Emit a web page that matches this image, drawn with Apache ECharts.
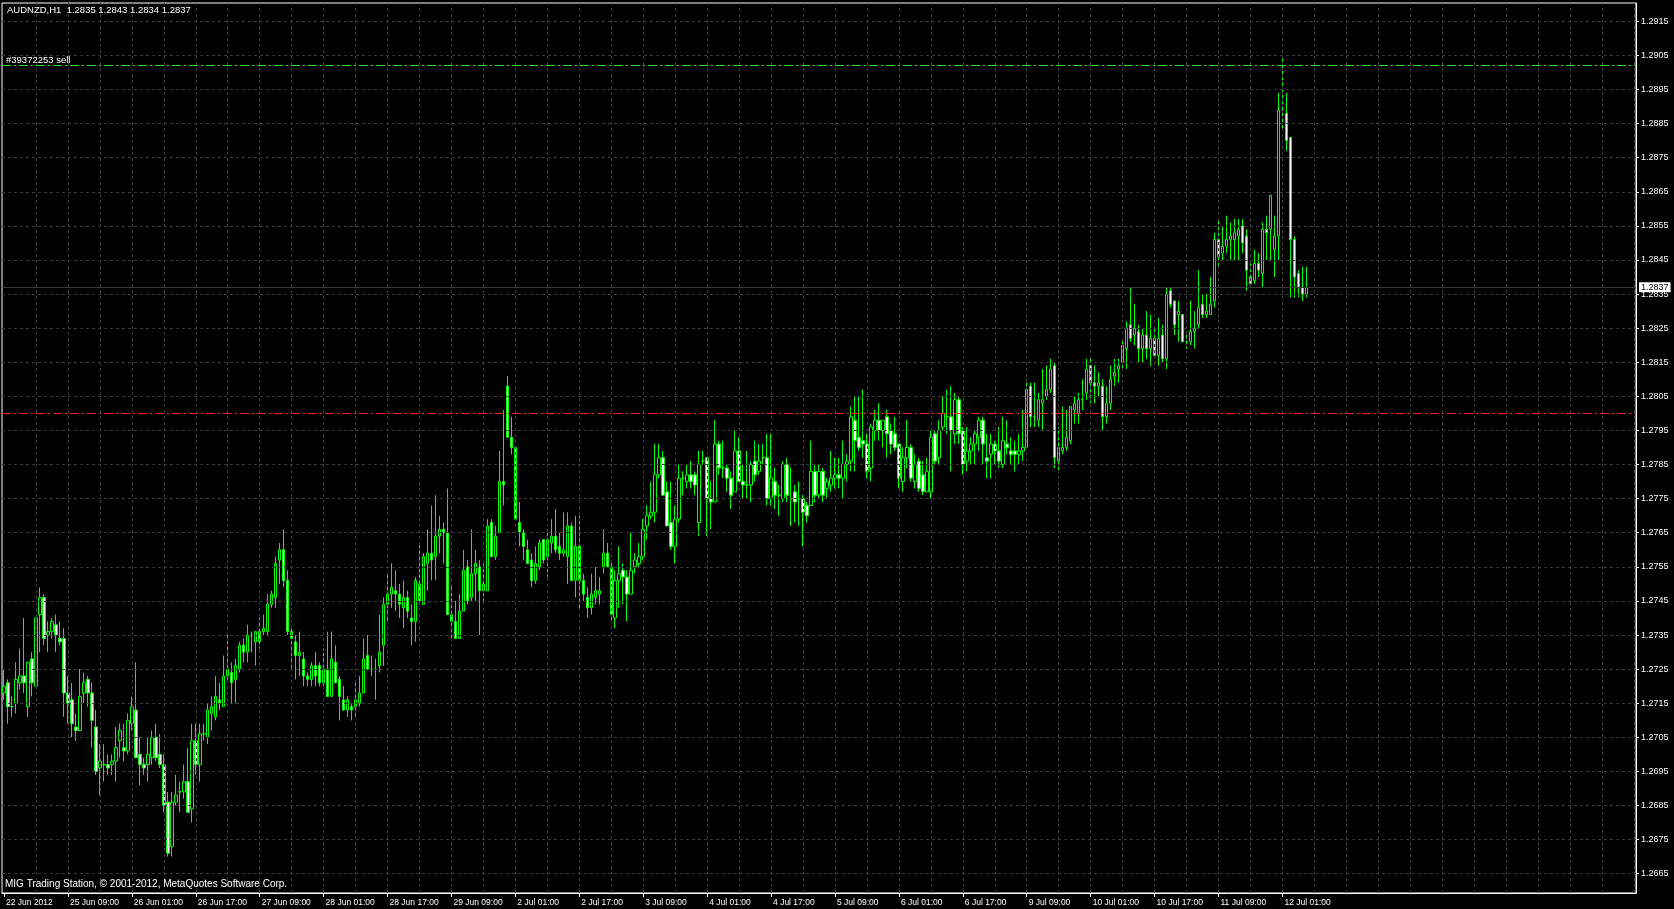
<!DOCTYPE html>
<html><head><meta charset="utf-8">
<script src="https://cdn.jsdelivr.net/npm/echarts@6/dist/echarts.min.js"></script>
<style>html,body{margin:0;padding:0;background:#000;}#c{width:1674px;height:909px;}</style>
</head><body><div id="c"></div>
<script>
const symbolName = 'AUDNZD';
const period = 'H1';
const copyright = 'MIG Trading Station, \u00a9 2001-2012, MetaQuotes Software Corp.';
const tickLabels = ['22 Jun 2012','25 Jun 09:00','26 Jun 01:00','26 Jun 17:00','27 Jun 09:00','28 Jun 01:00','28 Jun 17:00','29 Jun 09:00','2 Jul 01:00','2 Jul 17:00','3 Jul 09:00','4 Jul 01:00','4 Jul 17:00','5 Jul 09:00','6 Jul 01:00','6 Jul 17:00','9 Jul 09:00','10 Jul 01:00','10 Jul 17:00','11 Jul 09:00','12 Jul 01:00'];
const priceTicks = [1.2665,1.2675,1.2685,1.2695,1.2705,1.2715,1.2725,1.2735,1.2745,1.2755,1.2765,1.2775,1.2785,1.2795,1.2805,1.2815,1.2825,1.2835,1.2845,1.2855,1.2865,1.2875,1.2885,1.2895,1.2905,1.2915];
const orderTicket = '#39372253 sell';
const orderOpen = 1.2902;
const orderTarget = 1.2800;
const bidPrice = 1.2837;

// hourly candles [open, high, low, close]
const jun22 = [
[1.2718,1.2725,1.2716,1.2720],[1.2721,1.2722,1.2709,1.2714],[1.2714,1.2717,1.2711,1.2714],[1.2715,1.2727,1.2712,1.2722],
[1.2721,1.2731,1.2719,1.2723],[1.2723,1.2740,1.2718,1.2721],[1.2714,1.2727,1.2711,1.2727]];
const jun25 = [
[1.2728,1.2730,1.2717,1.2721],[1.2720,1.2740,1.2720,1.2740],[1.2741,1.2749,1.2730,1.2746],[1.2746,1.2747,1.2732,1.2734],
[1.2735,1.2739,1.2730,1.2736],[1.2736,1.2740,1.2734,1.2739],[1.2738,1.2741,1.2730,1.2735],[1.2734,1.2739,1.2732,1.2733],
[1.2734,1.2737,1.2711,1.2718],[1.2718,1.2723,1.2709,1.2715],[1.2716,1.2721,1.2705,1.2709],[1.2708,1.2712,1.2704,1.2707],
[1.2707,1.2725,1.2707,1.2717],[1.2718,1.2724,1.2715,1.2721],[1.2722,1.2723,1.2714,1.2718],[1.2718,1.2721,1.2702,1.2710],
[1.2708,1.2713,1.2694,1.2695],[1.2696,1.2703,1.2688,1.2698],[1.2697,1.2703,1.2692,1.2697],[1.2697,1.2700,1.2694,1.2696],
[1.2697,1.2700,1.2694,1.2698],[1.2698,1.2708,1.2692,1.2702],[1.2704,1.2709,1.2699,1.2707],[1.2702,1.2709,1.2698,1.2701]];
const jun26 = [
[1.2701,1.2712,1.2700,1.2710],[1.2709,1.2717,1.2707,1.2714],[1.2713,1.2727,1.2699,1.2699],[1.2700,1.2705,1.2691,1.2697],
[1.2697,1.2699,1.2694,1.2696],[1.2697,1.2705,1.2692,1.2700],[1.2699,1.2707,1.2697,1.2705],[1.2705,1.2709,1.2698,1.2699],
[1.2700,1.2706,1.2696,1.2697],[1.2697,1.2700,1.2683,1.2685],[1.2686,1.2689,1.2670,1.2671],[1.2673,1.2689,1.2670,1.2686],
[1.2686,1.2694,1.2685,1.2688],[1.2689,1.2692,1.2683,1.2689],[1.2689,1.2697,1.2687,1.2692],[1.2692,1.2702,1.2683,1.2683],
[1.2684,1.2709,1.2680,1.2704],[1.2704,1.2709,1.2694,1.2697],[1.2697,1.2709,1.2692,1.2706],[1.2706,1.2709,1.2704,1.2706],
[1.2705,1.2715,1.2703,1.2713],[1.2712,1.2717,1.2707,1.2714],[1.2711,1.2723,1.2710,1.2717],[1.2716,1.2721,1.2713,1.2715]];
const jun27 = [
[1.2714,1.2729,1.2714,1.2723],[1.2723,1.2735,1.2721,1.2725],[1.2724,1.2727,1.2715,1.2721],[1.2722,1.2728,1.2715,1.2726],
[1.2725,1.2733,1.2724,1.2732],[1.2732,1.2734,1.2727,1.2730],[1.2730,1.2738,1.2727,1.2735],[1.2735,1.2736,1.2730,1.2735],
[1.2733,1.2736,1.2726,1.2736],[1.2736,1.2740,1.2731,1.2733],[1.2736,1.2741,1.2735,1.2737],[1.2736,1.2747,1.2735,1.2744],
[1.2744,1.2748,1.2743,1.2747],[1.2746,1.2758,1.2743,1.2756],[1.2757,1.2762,1.2750,1.2760],[1.2760,1.2766,1.2749,1.2751],
[1.2751,1.2754,1.2735,1.2736],[1.2736,1.2737,1.2725,1.2734],[1.2733,1.2735,1.2722,1.2729],[1.2729,1.2736,1.2723,1.2730],
[1.2728,1.2730,1.2720,1.2723],[1.2723,1.2724,1.2720,1.2722],[1.2722,1.2727,1.2720,1.2726],[1.2726,1.2730,1.2720,1.2723]];
const jun28 = [
[1.2726,1.2727,1.2720,1.2721],[1.2721,1.2731,1.2719,1.2725],[1.2725,1.2736,1.2717,1.2717],[1.2717,1.2736,1.2717,1.2728],
[1.2727,1.2732,1.2721,1.2721],[1.2722,1.2723,1.2710,1.2717],[1.2716,1.2720,1.2713,1.2713],[1.2713,1.2717,1.2711,1.2716],
[1.2714,1.2715,1.2710,1.2713],[1.2714,1.2721,1.2711,1.2716],[1.2715,1.2723,1.2714,1.2718],[1.2718,1.2734,1.2718,1.2728],
[1.2729,1.2735,1.2725,1.2725],[1.2725,1.2729,1.2723,1.2725],[1.2725,1.2728,1.2716,1.2725],[1.2726,1.2741,1.2724,1.2730],
[1.2732,1.2746,1.2726,1.2744],[1.2744,1.2753,1.2739,1.2747],[1.2747,1.2756,1.2743,1.2749],[1.2748,1.2754,1.2742,1.2747],
[1.2747,1.2750,1.2740,1.2744],[1.2743,1.2751,1.2737,1.2746],[1.2746,1.2748,1.2740,1.2742],[1.2740,1.2744,1.2732,1.2739]];
const jun29 = [
[1.2739,1.2752,1.2733,1.2751],[1.2750,1.2762,1.2745,1.2745],[1.2744,1.2759,1.2744,1.2758],[1.2756,1.2766,1.2748,1.2759],
[1.2759,1.2773,1.2751,1.2757],[1.2758,1.2776,1.2751,1.2764],[1.2764,1.2770,1.2759,1.2766],[1.2766,1.2768,1.2756,1.2765],
[1.2765,1.2778,1.2741,1.2741],[1.2741,1.2750,1.2734,1.2739],[1.2739,1.2745,1.2734,1.2734],[1.2734,1.2747,1.2734,1.2742],
[1.2742,1.2760,1.2742,1.2754],[1.2755,1.2757,1.2744,1.2745],[1.2746,1.2766,1.2745,1.2753],[1.2753,1.2760,1.2745,1.2756],
[1.2755,1.2757,1.2735,1.2748],[1.2748,1.2756,1.2745,1.2750],[1.2748,1.2769,1.2748,1.2767],[1.2768,1.2769,1.2758,1.2758],
[1.2758,1.2767,1.2757,1.2764],[1.2765,1.2789,1.2765,1.2780],[1.2780,1.2801,1.2773,1.2779],[1.2808,1.2811,1.2793,1.2793]];
const jul02 = [
[1.2793,1.2799,1.2788,1.2790],[1.2790,1.2790,1.2769,1.2769],[1.2768,1.2774,1.2761,1.2765],[1.2765,1.2766,1.2757,1.2761],
[1.2760,1.2763,1.2756,1.2756],[1.2757,1.2759,1.2749,1.2751],[1.2751,1.2761,1.2750,1.2756],[1.2755,1.2763,1.2754,1.2762],
[1.2763,1.2763,1.2756,1.2757],[1.2758,1.2766,1.2752,1.2763],[1.2762,1.2769,1.2759,1.2764],[1.2764,1.2772,1.2759,1.2760],
[1.2761,1.2765,1.2757,1.2759],[1.2759,1.2771,1.2758,1.2760],[1.2758,1.2771,1.2750,1.2767],[1.2767,1.2768,1.2751,1.2751],
[1.2751,1.2770,1.2746,1.2761],[1.2761,1.2770,1.2742,1.2751],[1.2751,1.2753,1.2745,1.2747],[1.2746,1.2749,1.2740,1.2743],
[1.2743,1.2753,1.2741,1.2747],[1.2746,1.2755,1.2744,1.2748],[1.2747,1.2752,1.2744,1.2748],[1.2755,1.2766,1.2753,1.2759]];
const jul03 = [
[1.2759,1.2762,1.2755,1.2755],[1.2755,1.2757,1.2739,1.2741],[1.2740,1.2754,1.2737,1.2751],[1.2751,1.2761,1.2743,1.2753],
[1.2754,1.2756,1.2744,1.2752],[1.2752,1.2754,1.2739,1.2747],[1.2747,1.2765,1.2747,1.2754],[1.2755,1.2759,1.2753,1.2757],
[1.2756,1.2762,1.2755,1.2758],[1.2758,1.2769,1.2757,1.2766],[1.2767,1.2773,1.2763,1.2770],[1.2770,1.2780,1.2769,1.2771],
[1.2771,1.2791,1.2768,1.2782],[1.2782,1.2791,1.2781,1.2787],[1.2787,1.2789,1.2776,1.2776],[1.2777,1.2780,1.2767,1.2767],
[1.2768,1.2780,1.2760,1.2761],[1.2761,1.2773,1.2756,1.2769],[1.2769,1.2785,1.2768,1.2781],[1.2781,1.2783,1.2776,1.2781],
[1.2780,1.2785,1.2778,1.2782],[1.2782,1.2786,1.2778,1.2780],[1.2782,1.2783,1.2776,1.2779],[1.2768,1.2789,1.2764,1.2785]];
const jul04 = [
[1.2786,1.2789,1.2785,1.2786],[1.2787,1.2787,1.2764,1.2775],[1.2775,1.2780,1.2766,1.2774],[1.2774,1.2798,1.2774,1.2791],
[1.2791,1.2792,1.2782,1.2784],[1.2784,1.2792,1.2781,1.2784],[1.2784,1.2785,1.2777,1.2781],[1.2781,1.2783,1.2772,1.2776],
[1.2777,1.2795,1.2777,1.2789],[1.2789,1.2793,1.2780,1.2780],[1.2780,1.2785,1.2775,1.2779],[1.2779,1.2789,1.2775,1.2779],
[1.2779,1.2786,1.2774,1.2785],[1.2786,1.2792,1.2780,1.2782],[1.2783,1.2791,1.2782,1.2786],[1.2787,1.2791,1.2785,1.2787],
[1.2787,1.2794,1.2773,1.2775],[1.2775,1.2794,1.2773,1.2781],[1.2780,1.2784,1.2772,1.2776],[1.2776,1.2779,1.2770,1.2776],
[1.2775,1.2786,1.2774,1.2785],[1.2785,1.2787,1.2774,1.2776],[1.2775,1.2784,1.2767,1.2775],[1.2777,1.2779,1.2768,1.2774]];
const jul05 = [
[1.2775,1.2780,1.2767,1.2775],[1.2775,1.2776,1.2761,1.2771],[1.2773,1.2774,1.2768,1.2770],[1.2773,1.2792,1.2773,1.2783],
[1.2783,1.2785,1.2774,1.2776],[1.2776,1.2785,1.2775,1.2783],[1.2783,1.2784,1.2774,1.2776],[1.2778,1.2781,1.2775,1.2780],
[1.2779,1.2789,1.2777,1.2781],[1.2781,1.2787,1.2778,1.2782],[1.2782,1.2787,1.2778,1.2781],[1.2781,1.2792,1.2775,1.2785],
[1.2785,1.2788,1.2780,1.2786],[1.2786,1.2802,1.2783,1.2799],[1.2798,1.2805,1.2783,1.2792],[1.2793,1.2805,1.2789,1.2790],
[1.2792,1.2807,1.2787,1.2791],[1.2791,1.2794,1.2781,1.2783],[1.2784,1.2797,1.2780,1.2796],[1.2795,1.2801,1.2792,1.2798],
[1.2798,1.2803,1.2792,1.2795],[1.2795,1.2798,1.2790,1.2798],[1.2799,1.2801,1.2787,1.2794],[1.2795,1.2797,1.2788,1.2791]];
const jul06 = [
[1.2794,1.2799,1.2789,1.2790],[1.2791,1.2791,1.2778,1.2781],[1.2780,1.2790,1.2777,1.2787],[1.2787,1.2798,1.2784,1.2790],
[1.2790,1.2791,1.2780,1.2781],[1.2780,1.2788,1.2778,1.2785],[1.2786,1.2787,1.2777,1.2778],[1.2782,1.2786,1.2776,1.2777],
[1.2777,1.2787,1.2777,1.2783],[1.2777,1.2795,1.2775,1.2793],[1.2794,1.2795,1.2785,1.2786],[1.2787,1.2798,1.2785,1.2795],
[1.2796,1.2805,1.2795,1.2800],[1.2799,1.2807,1.2794,1.2799],[1.2799,1.2808,1.2783,1.2795],[1.2794,1.2806,1.2791,1.2804],
[1.2804,1.2805,1.2791,1.2794],[1.2795,1.2796,1.2782,1.2785],[1.2786,1.2796,1.2783,1.2789],[1.2789,1.2793,1.2785,1.2791],
[1.2791,1.2795,1.2785,1.2794],[1.2793,1.2799,1.2789,1.2798],[1.2798,1.2799,1.2785,1.2791],[1.2787,1.2794,1.2781,1.2786]];
const jul09 = [
[1.2788,1.2794,1.2781,1.2791],[1.2791,1.2792,1.2785,1.2789],[1.2789,1.2796,1.2784,1.2786],[1.2785,1.2799,1.2784,1.2792],
[1.2791,1.2798,1.2788,1.2790],[1.2789,1.2793,1.2785,1.2788],[1.2789,1.2792,1.2783,1.2788],[1.2788,1.2794,1.2785,1.2789],
[1.2789,1.2801,1.2786,1.2790],[1.2790,1.2810,1.2790,1.2807],[1.2808,1.2809,1.2796,1.2799],[1.2799,1.2809,1.2796,1.2799],
[1.2798,1.2806,1.2796,1.2804],[1.2803,1.2813,1.2795,1.2804],[1.2805,1.2814,1.2804,1.2807],[1.2807,1.2816,1.2806,1.2813],
[1.2814,1.2815,1.2784,1.2787],[1.2786,1.2796,1.2783,1.2790],[1.2789,1.2802,1.2788,1.2790],[1.2790,1.2801,1.2789,1.2793],
[1.2792,1.2802,1.2791,1.2802],[1.2801,1.2805,1.2797,1.2803],[1.2800,1.2806,1.2797,1.2804],[1.2804,1.2810,1.2801,1.2804]];
const jul10 = [
[1.2806,1.2816,1.2804,1.2813],[1.2814,1.2816,1.2803,1.2809],[1.2809,1.2814,1.2803,1.2808],[1.2808,1.2812,1.2805,1.2809],
[1.2808,1.2810,1.2795,1.2799],[1.2799,1.2808,1.2797,1.2803],[1.2803,1.2814,1.2801,1.2810],[1.2811,1.2816,1.2808,1.2812],
[1.2813,1.2816,1.2809,1.2814],[1.2815,1.2822,1.2813,1.2820],[1.2819,1.2827,1.2813,1.2825],[1.2826,1.2837,1.2821,1.2822],
[1.2823,1.2832,1.2820,1.2825],[1.2824,1.2826,1.2815,1.2819],[1.2819,1.2825,1.2815,1.2823],[1.2823,1.2830,1.2816,1.2819],
[1.2819,1.2829,1.2814,1.2822],[1.2822,1.2825,1.2816,1.2817],[1.2817,1.2828,1.2814,1.2822],[1.2823,1.2826,1.2815,1.2816],
[1.2816,1.2837,1.2813,1.2835],[1.2836,1.2837,1.2831,1.2832],[1.2833,1.2833,1.2823,1.2826],[1.2829,1.2833,1.2821,1.2830]];
const jul11 = [
[1.2829,1.2829,1.2821,1.2821],[1.2821,1.2824,1.2819,1.2821],[1.2821,1.2833,1.2820,1.2824],[1.2824,1.2830,1.2819,1.2825],
[1.2826,1.2842,1.2825,1.2831],[1.2832,1.2835,1.2828,1.2829],[1.2829,1.2835,1.2828,1.2830],[1.2829,1.2840,1.2829,1.2832],
[1.2833,1.2853,1.2831,1.2851],[1.2851,1.2857,1.2843,1.2846],[1.2847,1.2855,1.2845,1.2849],[1.2849,1.2858,1.2847,1.2851],
[1.2851,1.2856,1.2845,1.2852],[1.2851,1.2857,1.2845,1.2853],[1.2852,1.2857,1.2845,1.2854],[1.2855,1.2857,1.2847,1.2850],
[1.2852,1.2854,1.2836,1.2842],[1.2840,1.2844,1.2837,1.2838],[1.2839,1.2848,1.2838,1.2844],[1.2844,1.2847,1.2840,1.2842],
[1.2841,1.2856,1.2837,1.2854],[1.2854,1.2858,1.2845,1.2853],[1.2854,1.2864,1.2845,1.2864],[1.2848,1.2858,1.2840,1.2852]];
const jul12 = [
[1.2852,1.2894,1.2845,1.2889],[1.2889,1.2904,1.2883,1.2889],[1.2888,1.2894,1.2877,1.2880],[1.2881,1.2881,1.2834,1.2851],
[1.2851,1.2852,1.2834,1.2840],[1.2841,1.2842,1.2834,1.2837],[1.2837,1.2843,1.2833,1.2835],[1.2835,1.2843,1.2834,1.2837]];

const days = [jun22, jun25, jun26, jun27, jun28, jun29, jul02, jul03, jul04, jul05, jul06, jul09, jul10, jul11, jul12];
const candles = days.flat();
const totalSlots = 409;           // visible bar slots incl. right shift
const labelEvery = 16;
const gridEvery = 8;

const cats = Array.from({length: totalSlots}, (_, i) => String(i));
const candleData = candles.map(([o, h, l, c]) => [o, c, l, h]);
const showLabel = (i) => i % labelEvery === 0 && i / labelEvery < tickLabels.length;

const gridLines = priceTicks.map(v => ({yAxis: v}));
for (let k = gridEvery; k < totalSlots; k += gridEvery) gridLines.push({xAxis: k});

const last = candles[candles.length - 1];
const header = symbolName + ',' + period + '  ' + last.map(v => v.toFixed(4)).join(' ');
const FONT = 'Liberation Sans';

const chart = echarts.init(document.getElementById('c'), null, {renderer: 'canvas'});
chart.setOption({
  animation: false,
  backgroundColor: '#000',
  grid: {left: 2, top: 3, right: 38, bottom: 16, show: true, borderColor: '#fff', borderWidth: 1, backgroundColor: '#000'},
  xAxis: {
    type: 'category', data: cats, boundaryGap: true,
    axisLine: {show: true, lineStyle: {color: '#fff', width: 1}},
    axisTick: {show: true, alignWithLabel: true, interval: (i) => showLabel(i), length: 4, lineStyle: {color: '#fff'}},
    axisLabel: {show: true, interval: (i) => showLabel(i), formatter: (v, i) => tickLabels[i / labelEvery] || '',
      color: '#fff', fontSize: 8.5, fontFamily: FONT, align: 'left', margin: 5, padding: [0, 0, 0, 2]},
    splitLine: {show: false}
  },
  yAxis: {
    type: 'value', position: 'right', min: 1.265934, max: 1.292037, scale: true,
    axisLine: {show: true, lineStyle: {color: '#fff', width: 1}},
    axisTick: {show: true, customValues: priceTicks, length: 3, lineStyle: {color: '#fff'}},
    axisLabel: {show: true, customValues: priceTicks, formatter: (v) => v.toFixed(4), color: '#fff', fontSize: 9, fontFamily: FONT, margin: 5},
    splitLine: {show: false}
  },
  graphic: [
    {type: 'text', left: 7, top: 5, z: 100, style: {text: header, fill: '#fff', font: '9.5px "Liberation Sans"'}},
    {type: 'text', left: 5, top: 879, z: 100, style: {text: copyright, fill: '#fff', font: '10px "Liberation Sans"'}}
  ],
  series: [
    {
      type: 'line', name: 'grid', data: cats.map(() => '-'), z: 1, silent: true, showSymbol: false,
      markLine: {silent: true, precision: 6, symbol: ['none', 'none'], animation: false, label: {show: false},
        emphasis: {disabled: true},
        lineStyle: {color: '#3a3a3a', type: [3, 3], width: 1}, data: gridLines}
    },
    {
      type: 'line', name: 'levels', data: cats.map(() => '-'), z: 2, silent: true, showSymbol: false,
      markLine: {silent: true, precision: 6, symbol: ['none', 'none'], animation: false, emphasis: {disabled: true},
        data: [
          {yAxis: orderOpen, lineStyle: {color: '#2ee02e', type: [9, 3, 2, 3], width: 1.2},
            label: {show: true, position: 'insideStartTop', formatter: orderTicket, color: '#fff', fontSize: 9.5, fontFamily: FONT, distance: [4, 0]}},
          {yAxis: orderTarget, lineStyle: {color: '#ff1a1a', type: [9, 3, 2, 3], width: 1.2}, label: {show: false}},
          {yAxis: bidPrice, lineStyle: {color: '#3c3c3c', type: 'solid', width: 1},
            label: {show: true, position: 'end', formatter: () => bidPrice.toFixed(4), color: '#000', backgroundColor: '#fff',
              padding: [1, 2, 0, 2], fontSize: 9, fontFamily: FONT, distance: 3}}
        ]}
    },
    {
      type: 'candlestick', name: symbolName, data: candleData, z: 3, barWidth: 3,
      itemStyle: {color: '#000', color0: '#fff', borderColor: '#00ff00', borderColor0: '#00ff00', borderWidth: 1},
      emphasis: {disabled: true}
    }
  ]
});
</script>
</body></html>
